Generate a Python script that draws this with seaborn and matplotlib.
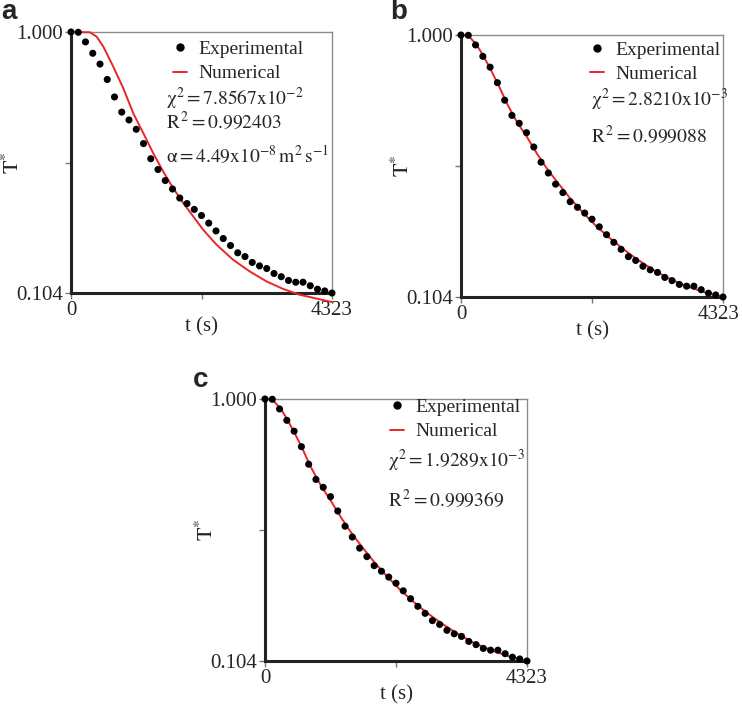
import numpy as np
import pandas as pd
import matplotlib
matplotlib.use("Agg")
import matplotlib.pyplot as plt
import matplotlib.transforms as mtransforms
import seaborn as sns
from matplotlib.lines import Line2D

# experimental points (same run for the 3 panels)
t_exp = np.linspace(0, 4323, 37)
T_exp = [1.000, 0.999, 0.966, 0.927, 0.890, 0.837, 0.777, 0.725, 0.698, 0.666,
         0.617, 0.565, 0.528, 0.490, 0.461, 0.430, 0.411, 0.391, 0.370, 0.344,
         0.317, 0.291, 0.267, 0.242, 0.229, 0.209, 0.197, 0.188, 0.171, 0.160,
         0.147, 0.141, 0.141, 0.129, 0.117, 0.111, 0.104]

# numerical solutions
t_num_a = [0, 314, 425, 535, 700, 866, 1031, 1197, 1362, 1527, 1693, 1858, 2024,
           2189, 2410, 2685, 2961, 3237, 3512, 3788, 4064, 4323]
T_num_a = [1.000, 0.999, 0.984, 0.950, 0.881, 0.807, 0.721, 0.653, 0.584, 0.521,
           0.464, 0.413, 0.367, 0.321, 0.270, 0.218, 0.178, 0.144, 0.118, 0.098,
           0.085, 0.073]
t_num_b = [0, 121, 263, 373, 483, 620, 757, 922, 1086, 1251, 1415, 1580, 1799,
           2019, 2238, 2458, 2677, 2897, 3171, 3445, 3720, 3994, 4323]
T_num_b = [1.000, 0.998, 0.965, 0.927, 0.885, 0.828, 0.766, 0.703, 0.652, 0.595,
           0.544, 0.499, 0.442, 0.391, 0.345, 0.305, 0.268, 0.234, 0.197, 0.166,
           0.141, 0.122, 0.104]
t_num_c = [0, 121, 263, 373, 483, 620, 757, 922, 1086, 1251, 1415, 1580, 1799,
           2019, 2238, 2458, 2677, 2897, 3171, 3445, 3720, 3994, 4323]
T_num_c = [1.000, 0.998, 0.966, 0.928, 0.886, 0.829, 0.767, 0.704, 0.652, 0.596,
           0.545, 0.500, 0.443, 0.392, 0.346, 0.305, 0.268, 0.235, 0.198, 0.166,
           0.142, 0.122, 0.104]

stats_a = [r"$\mathrm{\chi^2 = 7.8567x10^{-2}}$", r"$\mathrm{R^{\,2} = 0.992403}$",
           r"$\mathrm{\alpha = 4.49x10^{-8}\,m^2\,s^{-1}}$"]
stats_b = [r"$\mathrm{\chi^2 = 2.8210x10^{-3}}$", r"$\mathrm{R^{\,2} = 0.999088}$"]
stats_c = [r"$\mathrm{\chi^2 = 1.9289x10^{-3}}$", r"$\mathrm{R^{\,2} = 0.999369}$"]

sns.set_style("white")
plt.rcParams['font.family'] = ['Liberation Serif', 'DejaVu Serif']
plt.rcParams['mathtext.fontset'] = 'stix'

fig = plt.figure(figsize=(7.42, 7.04), dpi=100)

# letter, axes rect, numerical data, stats, legend anchor, stats x / ys, letter offset
panels = [
    ("a", [71/742, 1-293/704, 261/742, 261/704], t_num_a, T_num_a, stats_a,
     (0.36, 0.998), (0.365, [0.743, 0.655, 0.529]), (-70, 20)),
    ("b", [461/742, 1-297/704, 262/742, 262/704], t_num_b, T_num_b, stats_b,
     (0.462, 1.006), (0.497, [0.752, 0.618]), (-71, 23)),
    ("c", [265/742, 1-661/704, 262/742, 262/704], t_num_c, T_num_c, stats_c,
     (0.447, 1.032), (0.469, [0.763, 0.615]), (-72, 19)),
]

for letter, pos, tn, Tn, stats, legpos, txt, loff in panels:
    ax = fig.add_axes(pos)
    df_exp = pd.DataFrame({"t": t_exp, "T": T_exp})
    df_num = pd.DataFrame({"t": tn, "T": Tn})
    sns.lineplot(data=df_num, x="t", y="T", ax=ax, color="#e8262a", lw=1.4,
                 clip_on=False, zorder=3)
    sns.scatterplot(data=df_exp, x="t", y="T", ax=ax, color="black", s=26,
                    edgecolor="none", clip_on=False, zorder=4)
    ax.set_xlim(0, 4323)
    ax.set_ylim(0.104, 1.000)
    ax.set_xticks([0, 2161.5, 4323])
    ax.set_xticklabels(["0", "", "4323"])
    ax.set_yticks([0.104, 0.552, 1.000])
    ax.set_yticklabels(["0.104", "", "1.000"])
    ax.tick_params(axis="both", length=4, width=1, color="#777777", pad=2,
                   labelsize=15, direction="out", left=True, bottom=True)
    for s in ["left", "bottom"]:
        ax.spines[s].set_linewidth(2.2)
        ax.spines[s].set_color("#222222")
    for s in ["top", "right"]:
        ax.spines[s].set_linewidth(1.0)
        ax.spines[s].set_color("#8c8c8c")
    ax.set_xlabel("t (s)", fontsize=15, labelpad=-2)
    ax.set_ylabel(r"$\mathrm{T}^{*}$", fontsize=16, labelpad=-6)

    if letter == "b":
        # keep the last label inside the figure edge
        lab = ax.get_xticklabels()[-1]
        lab.set_transform(lab.get_transform() +
                          mtransforms.ScaledTranslation(-4/100, 0, fig.dpi_scale_trans))

    handles = [Line2D([], [], marker="o", ls="none", color="black", markersize=5),
               Line2D([], [], color="#e8262a", lw=1.4)]
    ax.legend(handles, ["Experimental", "Numerical"], loc="upper left",
              bbox_to_anchor=legpos, frameon=False, fontsize=14,
              handlelength=0.75, handletextpad=0.55, labelspacing=0.35,
              borderaxespad=0)
    for s, yy in zip(stats, txt[1]):
        ax.text(txt[0], yy, s, transform=ax.transAxes, fontsize=14, va="center")

    fig.text(pos[0] + loff[0]/742, pos[1] + pos[3] + loff[1]/704, letter,
             fontsize=20, fontweight="bold", family="Liberation Sans",
             va="center", ha="left")

fig.savefig("out.png", dpi=100)
